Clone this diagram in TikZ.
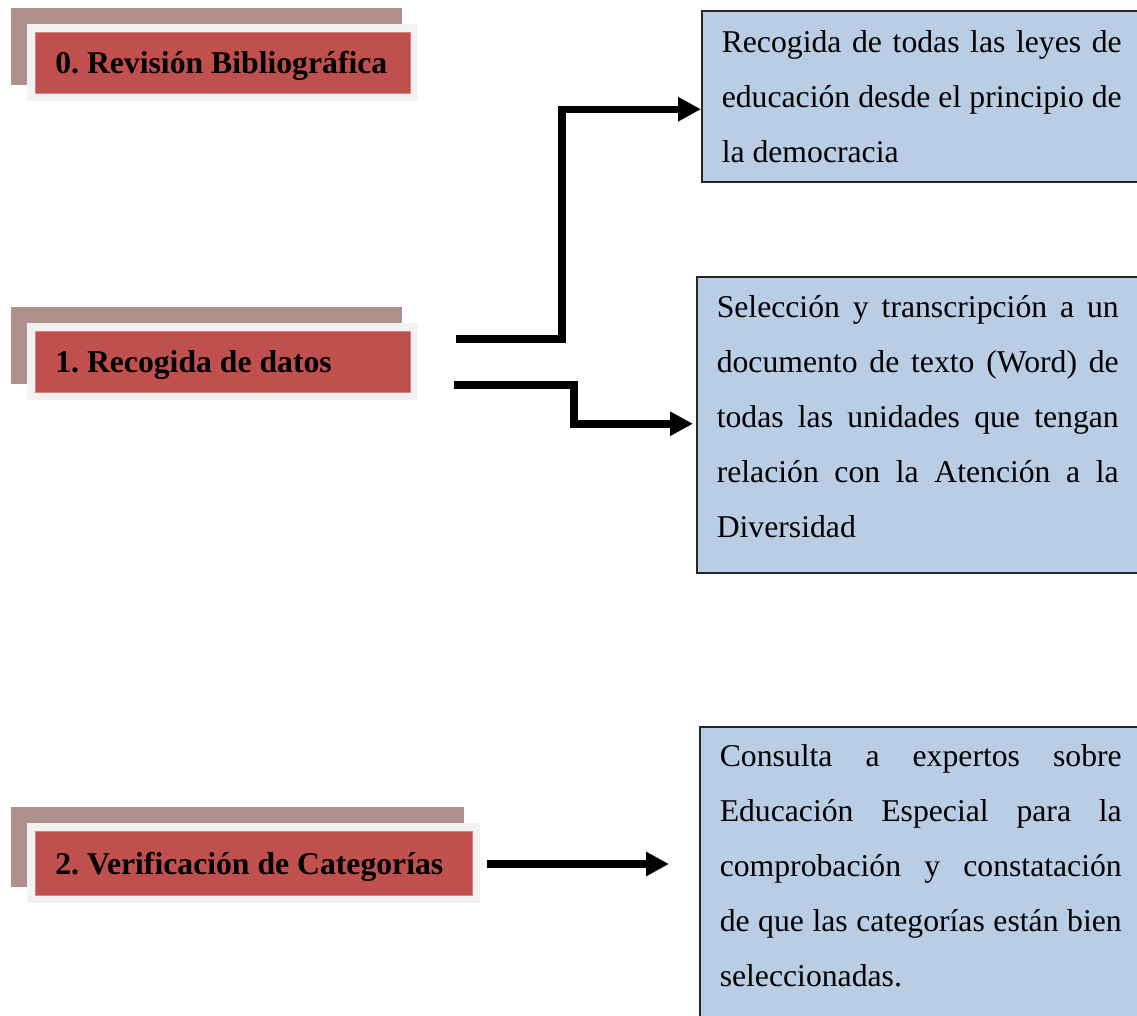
\documentclass[tikz,border=0pt]{standalone}
\usepackage{fontspec}
\setmainfont{Liberation Serif}
\usepackage{tikz}
\usetikzlibrary{arrows.meta}

\definecolor{stagered}{HTML}{C0504D}
\definecolor{stageshade}{HTML}{B0908D}
\definecolor{stageframe}{HTML}{F2F2F2}
\definecolor{noteblue}{HTML}{B9CDE5}

\newcommand\jl[1]{\noindent\hbox to\hsize{\spaceskip=.25em plus .6em minus .05em\xspaceskip=\spaceskip #1}\par}

\tikzset{
  stage/.style={
    anchor=north west, fill=stagered, draw=stagered!70!white, line width=.6pt,
    inner xsep=20pt, inner ysep=0pt, text height=22pt, text depth=0pt, align=flush left,
    font=\fontsize{31.7}{38}\selectfont\bfseries\frenchspacing,
    preaction={draw=stageshade, fill=stageshade, line width=16pt,
      transform canvas={shift={(-16.5pt,16.5pt)}}},
    preaction={draw=stageframe, line width=16pt},
  },
  note/.style={
    anchor=north west, fill=noteblue, draw=black!85, line width=1.5pt,
    inner xsep=20pt, inner ysep=0pt, align=flush left,
    font=\fontsize{31.7}{55}\selectfont\frenchspacing,
  },
  flow/.style={line width=7.5pt, -{Triangle[length=23pt,width=23pt]}},
}

\begin{document}
\begin{tikzpicture}[x=1pt,y=-1pt]
\useasboundingbox (0,0) rectangle (1137,1015);
\clip (0,0) rectangle (1137,1015);

\foreach \nm/\yy/\ww/\hh/\txt in {
  rev/32/335/61/{0. Revisión Bibliográfica},
  rec/331/335/61/{1. Recogida de datos},
  ver/831/397/64/{2. Verificación de Categorías}}
  \node[stage, text width=\ww pt, minimum height=\hh pt] (\nm) at (35,\yy) {\mbox{\txt}};

\node[note, text width=400pt] (leyes) at (701,10) {%
  \jl{\rule{0pt}{42pt}Recogida de todas las leyes de}%
  \jl{educación desde el principio de}%
  \jl{la democracia\hfil\rule[-19pt]{0pt}{19pt}}};
\node[note, text width=402pt] (unidades) at (696,276) {%
  \jl{\rule{0pt}{41pt}Selección y transcripción a un}%
  \jl{documento de texto (Word) de}%
  \jl{todas las unidades que tengan}%
  \jl{relación con la Atención a la}%
  \jl{Diversidad\hfil\rule[-35pt]{0pt}{35pt}}};
\node[note, text width=402pt] (expertos) at (699,726) {%
  \jl{\rule{0pt}{40pt}Consulta a expertos sobre}%
  \jl{Educación Especial para la}%
  \jl{comprobación y constatación}%
  \jl{de que las categorías están bien}%
  \jl{seleccionadas.\hfil\rule[-50pt]{0pt}{50pt}}};

\coordinate (out1) at (456,339);
\coordinate (out2) at (454,385);
\coordinate (out3) at (487,864);

\draw[flow] (out1) -- ++(106,0) |- ([yshift=-13pt]leyes.west);
\draw[flow] (out2) -- ++(120,0) |- ([xshift=-3pt,yshift=1pt]unidades.west);
\draw[flow, shorten >=30pt] (out3) -- (out3 -| expertos.west);

\end{tikzpicture}
\end{document}
